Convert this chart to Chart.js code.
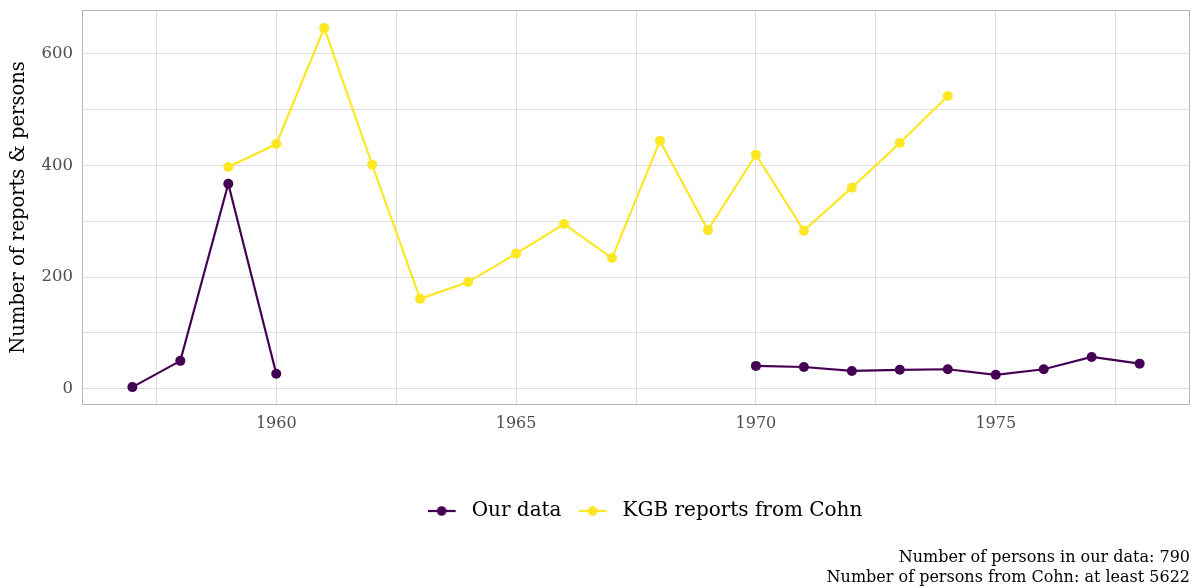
<!DOCTYPE html>
<html><head><meta charset="utf-8">
<script src="https://cdn.jsdelivr.net/npm/chart.js@4"></script>
<style>html,body{margin:0;padding:0;background:#fff}#wrap{width:1196px;height:588px;position:relative}</style>
</head><body><div id="wrap"><canvas id="c"></canvas></div>
<script>
const years = [1957,1958,1959,1960,1961,1962,1963,1964,1965,1966,1967,1968,1969,1970,1971,1972,1973,1974,1975,1976,1977,1978];
const ourData = [3,50,367,27,null,null,null,null,null,null,null,null,null,41,39,32,34,35,25,35,57,45];
const kgbReports = [null,null,397,438,646,401,161,191,242,295,234,444,284,419,283,360,440,524,null,null,null,null];
const seriesNames = ["Our data","KGB reports from Cohn"];
const seriesColors = ["#440154","#FDE725"];
const xTickLabels = [1960,1965,1970,1975];
const yTickLabels = [0,200,400,600];
const yAxisTitle = "Number of reports & persons";
const captionLines = ["Number of persons in our data: 790","Number of persons from Cohn: at least 5622"];

const FONT = "'DejaVu Serif', serif";

function legendIcon(color){
  const c = document.createElement('canvas');
  c.width = 34; c.height = 12;
  const g = c.getContext('2d');
  g.strokeStyle = color; g.lineWidth = 2.2;
  g.beginPath(); g.moveTo(0,6); g.lineTo(28,6); g.stroke();
  g.fillStyle = color; g.beginPath(); g.arc(14,6,4.8,0,Math.PI*2); g.fill();
  return c;
}
const icons = seriesColors.map(legendIcon);

const toPts = arr => years.map((y,i)=>({x:y,y:arr[i]}));

const borderPlugin = {
  id:'panelBorder',
  afterLayout(chart){
    if (chart.legend) { chart.legend.left += 47; chart.legend.right += 47; }
  },
  afterDraw(chart){
    const a = chart.chartArea, ctx = chart.ctx;
    ctx.save(); ctx.strokeStyle = '#b3b3b3'; ctx.lineWidth = 1;
    ctx.strokeRect(Math.round(a.left)+0.5, Math.round(a.top)+0.5, Math.round(a.right-a.left)-1, Math.round(a.bottom-a.top)-1);
    ctx.restore();
  }
};

const minorX = [];
for (let v = 1957.5; v <= 1979; v += 2.5) minorX.push(v);
const minorY = [];
for (let v = 0; v <= 650; v += 100) minorY.push(v);

new Chart(document.getElementById('c'), {
  type:'line',
  data:{
    datasets:[
      {label:seriesNames[0], data:toPts(ourData), borderColor:seriesColors[0], backgroundColor:seriesColors[0], borderWidth:2.2, pointRadius:5, pointBorderWidth:0, pointHoverRadius:5, spanGaps:false},
      {label:seriesNames[1], data:toPts(kgbReports), borderColor:seriesColors[1], backgroundColor:seriesColors[1], borderWidth:2.2, pointRadius:5, pointBorderWidth:0, pointHoverRadius:5, spanGaps:false}
    ]
  },
  options:{
    responsive:true, maintainAspectRatio:false, animation:false,
    layout:{padding:{left:6,right:6,top:10,bottom:0}},
    scales:{
      x:{type:'linear', min:1955.95, max:1979.05,
        afterBuildTicks(s){ s.ticks = minorX.map(v=>({value:v})); },
        afterFit(s){ s.height = 79; s.paddingLeft = 0; s.paddingRight = 0; },
        grid:{color:'#dedede', lineWidth:1, drawTicks:false},
        border:{display:false},
        ticks:{padding:9, color:'#4d4d4d', font:{family:FONT,size:16}, maxRotation:0, autoSkip:false,
          callback(v){ return xTickLabels.includes(v) ? String(v) : ''; }}
      },
      y:{type:'linear', min:-29, max:678,
        afterBuildTicks(s){ s.ticks = minorY.map(v=>({value:v})); },
        afterFit(s){ s.width = 76; s.paddingTop = 0; s.paddingBottom = 0; },
        grid:{color:'#dedede', lineWidth:1, drawTicks:false},
        border:{display:false},
        ticks:{padding:9, color:'#4d4d4d', font:{family:FONT,size:16.5}, autoSkip:false,
          callback(v){ return yTickLabels.includes(v) ? String(v) : ''; }},
        title:{display:true, text:yAxisTitle, color:'#000', font:{family:FONT,size:19.5}, padding:{top:1,bottom:0}}
      }
    },
    plugins:{
      legend:{position:'bottom', align:'center',
        labels:{usePointStyle:true, pointStyleWidth:34, boxHeight:12, padding:17, color:'#000', font:{family:FONT,size:20},
          generateLabels(chart){
            const items = Chart.defaults.plugins.legend.labels.generateLabels(chart);
            items.forEach((it,i)=>{ it.pointStyle = icons[i]; });
            return items;
          }}
      },
      subtitle:{display:true, position:'bottom', align:'end', text:captionLines, color:'#000',
        font:{family:FONT,size:16,lineHeight:1.25}, padding:{top:17,bottom:0}},
      tooltip:{enabled:false}
    }
  },
  plugins:[borderPlugin]
});
</script></body></html>
